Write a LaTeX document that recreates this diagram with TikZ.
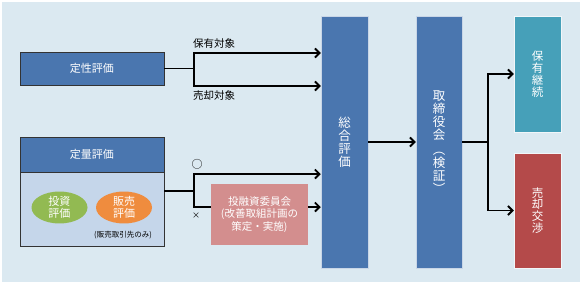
\documentclass[tikz,border=0pt]{standalone}
\usepackage{fontspec}
\setmainfont{Noto Sans CJK JP}
\usepackage{tikz}
\usetikzlibrary{arrows.meta, positioning, calc, shapes.geometric}
\definecolor{bgblue}{RGB}{219,233,241}
\definecolor{boxblue}{RGB}{74,118,175}
\definecolor{bodyblue}{RGB}{197,214,234}
\definecolor{leafgreen}{RGB}{146,186,82}
\definecolor{salesorange}{RGB}{239,140,62}
\definecolor{rosepink}{RGB}{211,142,142}
\definecolor{tealbox}{RGB}{70,160,185}
\definecolor{sellred}{RGB}{180,74,74}

\begin{document}
\begin{tikzpicture}[x=1pt, y=-1pt, >={Straight Barb[length=4.5pt,width=9pt]}]
  \tikzstyle{evalbox} = [rectangle, draw=black!80, line width=0.7pt, fill=boxblue, text=white, minimum width=144pt, font=\fontsize{11}{13}\selectfont]
  \tikzstyle{tallbox} = [rectangle, draw=white!70!boxblue, line width=0.5pt, fill=boxblue, text=white, minimum width=47pt, minimum height=252pt, align=center, font=\fontsize{12.5}{13}\selectfont]
  \tikzstyle{resultbox} = [rectangle, draw=white!60!bgblue, line width=0.5pt, text=white, minimum width=47pt, align=center, font=\fontsize{11.5}{11.8}\selectfont]
  \tikzstyle{oval} = [ellipse, text=white, minimum width=56pt, minimum height=31pt, inner sep=0pt, align=center, font=\fontsize{11}{12.5}\selectfont]
  \tikzstyle{flow} = [line width=1.8pt, black]
  \tikzstyle{tag} = [font=\fontsize{10.5}{12}\selectfont, inner sep=0pt]

  \useasboundingbox (0,0) rectangle (582,284);
  \fill[bgblue] (2,2) rectangle (580,282);

  % left side: evaluations
  \node [evalbox, minimum height=33pt] (qual) at (92,68.5) {定性評価};
  \node [evalbox, minimum height=35pt] (quant) at (92,154.5) {定量評価};
  \node [rectangle, draw=black!80, line width=0.7pt, fill=bodyblue, minimum width=144pt, minimum height=74pt, below=0pt of quant] (quantbody) {};
  \node [oval, fill=leafgreen] (invest) at (59.5,207.5) {投資\\評価};
  \node [oval, fill=salesorange] (sales) at (124,207.5) {販売\\評価};
  \node [font=\fontsize{7.5}{9}\selectfont, inner sep=0pt] (salesnote) at (123,235) {(販売取引先のみ)};

  \node [rectangle, fill=rosepink, text=white, minimum width=97pt, minimum height=61pt, align=center, font=\fontsize{10.5}{12.5}\selectfont] (committee) at (259.5,214.5) {投融資委員会\\(改善取組計画の\\策定・実施)};

  % right side
  \node [tallbox] (total) at (344.5,142) {総\\合\\評\\価};
  \node [tallbox, minimum width=46pt] (board) at (439,142) {取\\締\\役\\会\\[2pt]︵\\検\\証\\︶};
  \node [resultbox, fill=tealbox, minimum height=116pt] (keep) at (537.5,74) {保\\有\\継\\続};
  \node [resultbox, fill=sellred, minimum height=115pt] (sell) at (537.5,210.5) {売\\却\\交\\渉};

  % split points and bends
  \coordinate (qualsplit) at (194,68.5);
  \coordinate (holdbend) at (194,53);
  \coordinate (sellbend) at (194,86);
  \coordinate (quantsplit) at (194,191);
  \coordinate (okbend) at (194,174);
  \coordinate (ngbend) at (194,207);
  \coordinate (boardsplit) at (488,142);

  \draw[flow] (qual.east) -- (qualsplit);
  \draw[flow, ->] (qualsplit) -- (holdbend) -- (total.west |- holdbend);
  \draw[flow, ->] (qualsplit) -- (sellbend) -- (total.west |- sellbend);
  \node [tag, above right=4pt and -1pt of holdbend] (holdtag) {保有対象};
  \node [tag, below right=4pt and -1pt of sellbend] (selltag) {売却対象};

  \draw[flow] (quantbody.east |- quantsplit) -- (quantsplit);
  \draw[flow, ->] (quantsplit) -- (okbend) -- (total.west |- okbend);
  \draw[flow] (quantsplit) -- (ngbend) -- (committee.west |- ngbend);
  \draw[flow, ->] (committee.east |- ngbend) -- (total.west |- ngbend);
  \node [tag, font=\fontsize{11}{12}\selectfont, above=5pt of okbend, xshift=3pt] (oktag) {○};
  \node [tag, font=\fontsize{8}{9}\selectfont, below=6pt of ngbend, xshift=2pt] (ngtag) {×};

  \draw[flow, ->] (total.east) -- (board.west);
  \draw[flow] (board.east) -- (boardsplit);
  \draw[flow, ->] (boardsplit) |- (keep.west);
  \draw[flow, ->] (boardsplit) |- (sell.west);
\end{tikzpicture}
\end{document}
